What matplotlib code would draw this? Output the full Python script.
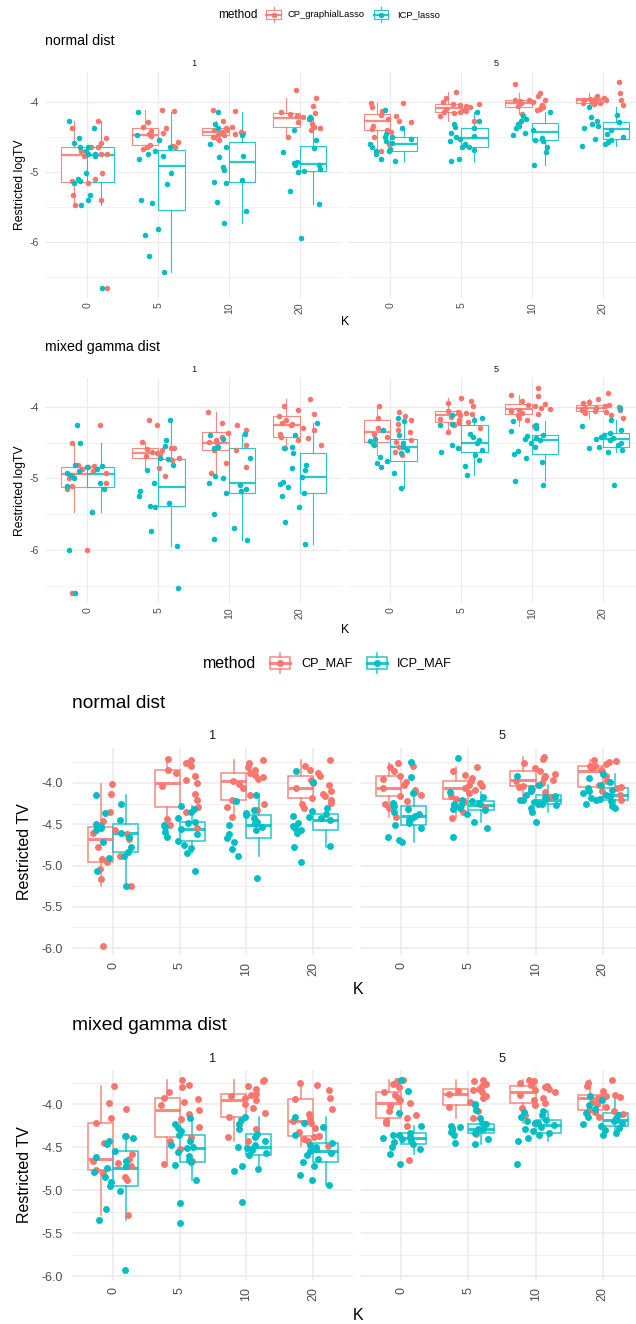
import numpy as np
import matplotlib
matplotlib.use("Agg")
import matplotlib.pyplot as plt
from matplotlib.patches import Rectangle
from matplotlib.colors import to_rgba

plt.rcParams['font.family'] = ['Liberation Sans', 'DejaVu Sans']
plt.rcParams['axes.unicode_minus'] = False

K = ['0', '5', '10', '20']
RED = '#F8766D'
TEAL = '#00BFC4'

# ---- values, one list per K (0, 5, 10, 20) ----
# normal dist, graphical lasso vs ICP lasso (K=0 is the same run for both)
norm_lasso_k0_f1 = [-6.66, -5.48, -5.40, -5.33, -5.16, -5.13, -5.10, -5.02, -4.78, -4.75, -4.74, -4.70, -4.65, -4.64, -4.59, -4.52, -4.38, -4.28]
norm_lasso_cp_f1 = [norm_lasso_k0_f1,
                    [-4.67, -4.65, -4.64, -4.63, -4.62, -4.58, -4.55, -4.49, -4.46, -4.44, -4.42, -4.38, -4.36, -4.29, -4.13, -4.12],
                    [-4.55, -4.51, -4.50, -4.48, -4.48, -4.46, -4.44, -4.43, -4.43, -4.41, -4.39, -4.37, -4.36, -4.27, -4.13, -4.12],
                    [-4.51, -4.40, -4.37, -4.36, -4.36, -4.32, -4.29, -4.25, -4.21, -4.20, -4.18, -4.16, -4.15, -4.06, -3.94, -3.83]]
norm_lasso_icp_f1 = [norm_lasso_k0_f1,
                     [-6.44, -6.20, -5.91, -5.82, -5.45, -5.40, -5.18, -5.02, -4.82, -4.78, -4.74, -4.70, -4.64, -4.55, -4.47, -4.14],
                     [-5.73, -5.56, -5.43, -5.16, -5.15, -5.12, -4.97, -4.93, -4.79, -4.77, -4.64, -4.60, -4.48, -4.38, -4.31, -4.14],
                     [-5.95, -5.46, -5.27, -5.01, -4.99, -4.96, -4.91, -4.90, -4.88, -4.86, -4.72, -4.66, -4.55, -4.41, -4.25, -4.22]]
norm_lasso_cp_f5 = [[-4.70, -4.60, -4.51, -4.43, -4.40, -4.39, -4.34, -4.29, -4.27, -4.25, -4.20, -4.19, -4.13, -4.08, -4.02, -4.01],
                    [-4.27, -4.20, -4.16, -4.15, -4.15, -4.13, -4.11, -4.10, -4.08, -4.06, -4.05, -4.03, -4.03, -4.00, -3.94, -3.86],
                    [-4.18, -4.12, -4.10, -4.08, -4.08, -4.06, -4.04, -4.02, -4.00, -3.99, -3.98, -3.97, -3.97, -3.92, -3.87, -3.74],
                    [-4.05, -4.03, -4.02, -4.01, -4.01, -4.00, -3.99, -3.98, -3.98, -3.97, -3.96, -3.94, -3.94, -3.92, -3.88, -3.72]]
norm_lasso_icp_f5 = [[-4.85, -4.82, -4.74, -4.70, -4.70, -4.67, -4.64, -4.61, -4.59, -4.56, -4.53, -4.51, -4.50, -4.46, -4.37, -4.12],
                     [-4.84, -4.82, -4.69, -4.65, -4.64, -4.61, -4.56, -4.53, -4.51, -4.49, -4.45, -4.37, -4.36, -4.31, -4.27, -4.14],
                     [-4.91, -4.72, -4.65, -4.56, -4.55, -4.52, -4.48, -4.45, -4.41, -4.38, -4.35, -4.31, -4.27, -4.24, -4.20, -4.15],
                     [-4.63, -4.61, -4.58, -4.54, -4.53, -4.51, -4.46, -4.41, -4.38, -4.35, -4.32, -4.29, -4.28, -4.22, -4.19, -4.08]]

# mixed gamma dist, graphical lasso vs ICP lasso
gamma_lasso_k0_f1 = [-6.60, -6.00, -5.47, -5.15, -5.11, -5.07, -4.99, -4.95, -4.93, -4.90, -4.87, -4.84, -4.83, -4.81, -4.51, -4.25]
gamma_lasso_cp_f1 = [gamma_lasso_k0_f1,
                     [-4.97, -4.85, -4.75, -4.71, -4.71, -4.69, -4.66, -4.65, -4.63, -4.61, -4.59, -4.57, -4.57, -4.49, -4.26, -4.18],
                     [-4.92, -4.84, -4.79, -4.61, -4.60, -4.58, -4.54, -4.51, -4.49, -4.46, -4.42, -4.36, -4.33, -4.25, -4.23, -4.07],
                     [-4.58, -4.54, -4.47, -4.44, -4.42, -4.38, -4.33, -4.29, -4.26, -4.24, -4.22, -4.18, -4.13, -4.10, -4.04, -3.99, -3.89]]
gamma_lasso_icp_f1 = [gamma_lasso_k0_f1,
                      [-6.54, -5.94, -5.73, -5.40, -5.39, -5.34, -5.25, -5.18, -5.06, -4.88, -4.81, -4.73, -4.72, -4.55, -4.46, -4.18],
                      [-5.86, -5.85, -5.70, -5.50, -5.20, -5.18, -5.15, -5.10, -5.06, -5.00, -4.97, -4.72, -4.58, -4.56, -4.45, -4.40, -4.38],
                      [-5.92, -5.61, -5.40, -5.24, -5.20, -5.12, -5.08, -5.05, -4.98, -4.88, -4.85, -4.81, -4.65, -4.58, -4.56, -4.39, -4.23]]
gamma_lasso_cp_f5 = [[-4.68, -4.63, -4.56, -4.52, -4.49, -4.46, -4.42, -4.38, -4.35, -4.32, -4.29, -4.24, -4.19, -4.16, -4.13, -4.07, -3.99],
                     [-4.35, -4.30, -4.26, -4.23, -4.21, -4.19, -4.17, -4.14, -4.12, -4.10, -4.08, -4.07, -4.06, -3.99, -3.95, -3.92, -3.87],
                     [-4.27, -4.19, -4.15, -4.12, -4.10, -4.08, -4.06, -4.05, -4.03, -4.01, -3.99, -3.98, -3.96, -3.92, -3.85, -3.83, -3.74],
                     [-4.15, -4.11, -4.08, -4.07, -4.06, -4.05, -4.04, -4.03, -4.02, -4.01, -4.00, -3.99, -3.97, -3.95, -3.93, -3.89, -3.80]]
gamma_lasso_icp_f5 = [[-5.14, -4.92, -4.84, -4.79, -4.76, -4.70, -4.65, -4.60, -4.56, -4.53, -4.51, -4.48, -4.45, -4.40, -4.33, -4.20, -4.16],
                      [-4.95, -4.83, -4.74, -4.68, -4.63, -4.60, -4.57, -4.53, -4.50, -4.47, -4.42, -4.38, -4.26, -4.24, -4.19, -4.15, -4.12],
                      [-5.09, -5.04, -4.77, -4.72, -4.66, -4.62, -4.56, -4.50, -4.47, -4.45, -4.43, -4.41, -4.39, -4.34, -4.30, -4.25, -4.20],
                      [-5.09, -4.63, -4.61, -4.58, -4.56, -4.54, -4.50, -4.47, -4.45, -4.43, -4.42, -4.40, -4.37, -4.33, -4.27, -4.19, -4.02]]

# normal dist, CP_MAF vs ICP_MAF
norm_maf_cp_f1 = [[-5.97, -5.25, -5.16, -5.04, -4.96, -4.92, -4.89, -4.78, -4.68, -4.62, -4.60, -4.57, -4.53, -4.46, -4.35, -4.13, -4.01],
                  [-4.55, -4.51, -4.44, -4.35, -4.29, -4.20, -4.13, -4.04, -4.00, -3.96, -3.92, -3.88, -3.84, -3.80, -3.76, -3.72, -3.71],
                  [-4.41, -4.33, -4.29, -4.25, -4.20, -4.15, -4.06, -4.01, -3.97, -3.95, -3.93, -3.90, -3.88, -3.84, -3.81, -3.76, -3.72],
                  [-4.30, -4.26, -4.24, -4.21, -4.18, -4.16, -4.13, -4.10, -4.06, -4.03, -4.00, -3.96, -3.92, -3.88, -3.84, -3.80, -3.72]]
norm_maf_icp_f1 = [[-5.25, -5.07, -4.91, -4.88, -4.83, -4.77, -4.72, -4.65, -4.60, -4.57, -4.54, -4.52, -4.50, -4.45, -4.36, -4.26, -4.15],
                   [-5.07, -4.85, -4.79, -4.75, -4.70, -4.66, -4.62, -4.59, -4.56, -4.53, -4.51, -4.49, -4.47, -4.43, -4.35, -4.31, -4.28],
                   [-5.15, -4.88, -4.80, -4.71, -4.67, -4.62, -4.57, -4.53, -4.51, -4.49, -4.47, -4.43, -4.39, -4.36, -4.33, -4.22, -4.14],
                   [-4.96, -4.77, -4.76, -4.60, -4.57, -4.55, -4.52, -4.48, -4.45, -4.43, -4.41, -4.40, -4.38, -4.34, -4.30, -3.99, -3.86]]
norm_maf_cp_f5 = [[-4.41, -4.30, -4.26, -4.22, -4.16, -4.14, -4.11, -4.08, -4.06, -4.03, -3.99, -3.95, -3.91, -3.86, -3.81, -3.79, -3.76],
                  [-4.43, -4.35, -4.29, -4.23, -4.19, -4.16, -4.12, -4.09, -4.06, -4.04, -4.02, -4.00, -3.98, -3.94, -3.90, -3.85, -3.81],
                  [-4.17, -4.11, -4.07, -4.05, -4.04, -4.02, -4.00, -3.98, -3.96, -3.94, -3.92, -3.89, -3.86, -3.82, -3.76, -3.71, -3.69],
                  [-4.21, -4.15, -4.10, -4.06, -4.05, -4.02, -3.98, -3.92, -3.86, -3.84, -3.82, -3.80, -3.79, -3.77, -3.75, -3.73, -3.72]]
norm_maf_icp_f5 = [[-4.71, -4.69, -4.65, -4.55, -4.51, -4.48, -4.45, -4.42, -4.40, -4.37, -4.35, -4.32, -4.28, -4.24, -4.12, -3.93, -3.75],
                   [-4.65, -4.54, -4.47, -4.38, -4.33, -4.32, -4.30, -4.28, -4.27, -4.26, -4.25, -4.24, -4.22, -4.20, -4.17, -4.11, -3.70],
                   [-4.47, -4.35, -4.30, -4.27, -4.26, -4.25, -4.23, -4.21, -4.20, -4.19, -4.17, -4.16, -4.14, -4.10, -4.06, -4.02, -3.91],
                   [-4.30, -4.28, -4.25, -4.22, -4.20, -4.19, -4.18, -4.16, -4.14, -4.12, -4.10, -4.08, -4.06, -4.02, -3.99, -3.94, -3.89]]

# mixed gamma dist, CP_MAF vs ICP_MAF
gamma_maf_cp_f1 = [[-5.29, -4.88, -4.84, -4.80, -4.76, -4.72, -4.68, -4.66, -4.63, -4.58, -4.45, -4.37, -4.21, -4.16, -4.05, -3.98, -3.79],
                   [-4.69, -4.66, -4.52, -4.42, -4.38, -4.26, -4.17, -4.11, -4.06, -4.01, -3.97, -3.94, -3.92, -3.86, -3.80, -3.77, -3.72],
                   [-4.42, -4.38, -4.28, -4.23, -4.15, -4.10, -4.04, -3.99, -3.95, -3.92, -3.90, -3.89, -3.88, -3.82, -3.79, -3.73, -3.72],
                   [-4.48, -4.43, -4.40, -4.38, -4.37, -4.32, -4.27, -4.22, -4.19, -4.16, -4.11, -4.05, -3.94, -3.92, -3.83, -3.77, -3.75]]
gamma_maf_icp_f1 = [[-5.93, -5.34, -5.21, -5.01, -4.95, -4.90, -4.84, -4.78, -4.74, -4.71, -4.66, -4.61, -4.54, -4.46, -4.42, -4.39, -4.37],
                    [-5.38, -5.14, -4.88, -4.70, -4.67, -4.64, -4.60, -4.55, -4.51, -4.49, -4.47, -4.42, -4.36, -4.31, -4.27, -4.23, -4.16],
                    [-5.13, -4.77, -4.75, -4.71, -4.59, -4.56, -4.53, -4.51, -4.50, -4.47, -4.43, -4.38, -4.34, -4.29, -4.23, -4.18, -4.14],
                    [-4.94, -4.88, -4.82, -4.71, -4.67, -4.63, -4.59, -4.56, -4.54, -4.52, -4.49, -4.47, -4.45, -4.36, -4.26, -4.21, -4.15]]
gamma_maf_cp_f5 = [[-4.64, -4.25, -4.22, -4.19, -4.16, -4.12, -4.07, -4.02, -3.98, -3.95, -3.92, -3.89, -3.85, -3.80, -3.76, -3.73, -3.72],
                   [-4.34, -4.16, -4.08, -4.03, -4.01, -3.97, -3.93, -3.90, -3.88, -3.86, -3.84, -3.83, -3.82, -3.78, -3.76, -3.73, -3.71],
                   [-4.22, -4.12, -4.04, -4.01, -3.98, -3.95, -3.92, -3.89, -3.85, -3.83, -3.82, -3.80, -3.79, -3.77, -3.75, -3.73, -3.72],
                   [-4.14, -4.11, -4.09, -4.07, -4.06, -4.03, -4.00, -3.97, -3.93, -3.91, -3.90, -3.89, -3.89, -3.84, -3.79, -3.75, -3.72]]
gamma_maf_icp_f5 = [[-4.69, -4.57, -4.52, -4.49, -4.46, -4.44, -4.42, -4.40, -4.39, -4.38, -4.36, -4.35, -4.33, -4.25, -4.10, -3.84, -3.72],
                    [-4.46, -4.45, -4.40, -4.35, -4.33, -4.32, -4.30, -4.29, -4.28, -4.27, -4.26, -4.25, -4.23, -4.21, -4.16, -4.06, -3.99],
                    [-4.69, -4.42, -4.39, -4.36, -4.33, -4.31, -4.29, -4.26, -4.24, -4.22, -4.21, -4.19, -4.18, -4.15, -4.12, -4.09, -4.07],
                    [-4.36, -4.33, -4.30, -4.27, -4.25, -4.23, -4.21, -4.19, -4.18, -4.16, -4.14, -4.12, -4.10, -4.05, -4.01, -3.95, -3.90]]

W, H = 636, 1324
fig = plt.figure(figsize=(W / 100, H / 100), dpi=100)


def px_axes(x0, y0, x1, y1):
    # place an axes from pixel box (origin top-left)
    return fig.add_axes([x0 / W, 1 - y1 / H, (x1 - x0) / W, (y1 - y0) / H])


def draw_facet(ax, cp, icp, ylim, sc, big, show_y, seed):
    lw = 1.07 * sc
    ax.set_xlim(0.4, 4.6)
    ax.set_ylim(*ylim)
    for s in ax.spines.values():
        s.set_visible(False)
    ax.set_xticks(range(1, 5), K, rotation=90)
    if big:
        ax.set_yticks(np.arange(-6.0, -3.9, 0.5), ['%.1f' % t for t in np.arange(-6.0, -3.9, 0.5)])
        ax.set_yticks(np.arange(-5.75, -3.6, 0.5), minor=True)
    else:
        ax.set_yticks([-6, -5, -4], ['-6', '-5', '-4'])
        ax.set_yticks([-6.5, -5.5, -4.5], minor=True)
    ax.grid(which='major', color='#EBEBEB', lw=lw)
    ax.grid(which='minor', axis='y', color='#EBEBEB', lw=lw * 0.5)
    ax.set_axisbelow(True)
    tsize = 9.0 if big else 7.6
    ax.tick_params(which='both', length=0, labelsize=tsize, labelcolor='#4D4D4D')
    ax.tick_params(axis='x', pad=5 if big else 2.9)
    ax.tick_params(axis='y', pad=7.2 if big else 4.3, labelleft=show_y)

    pos = np.arange(1, 5)
    for vals, off, col in [(cp, -0.1875, RED), (icp, 0.1875, TEAL)]:
        c = to_rgba(col, 0.85)
        ax.boxplot(vals, positions=pos + off, widths=0.375, whis=1.5,
                   showfliers=False, showcaps=False, patch_artist=True, manage_ticks=False,
                   boxprops=dict(facecolor='white', edgecolor=c, linewidth=lw),
                   whiskerprops=dict(color=c, linewidth=lw),
                   medianprops=dict(color=c, linewidth=2 * lw), zorder=2)
    rng = np.random.default_rng(seed)
    ms = 25 if big else 16
    for vals, col in [(cp, RED), (icp, TEAL)]:
        for i, v in enumerate(vals):
            x = pos[i] + rng.uniform(-0.3, 0.3, len(v))
            ax.scatter(x, v, s=ms, color=col, lw=0, zorder=3)


# overlay for titles, strips, labels and legends (pixel coordinates)
ov = fig.add_axes([0, 0, 1, 1], zorder=5)
ov.set_xlim(0, W)
ov.set_ylim(H, 0)
ov.set_axis_off()
ov.patch.set_alpha(0)


def legend(y, x_title, keys, sc, k):
    lw = 1.07 * sc
    ov.text(x_title, y, 'method', fontsize=11 * sc, ha='left', va='center')
    for cx, col, lab, tx in keys:
        c = to_rgba(col, 0.85)
        ov.add_patch(Rectangle((cx - 0.4 * k, y - 0.25 * k), 0.8 * k, 0.5 * k,
                               facecolor='white', edgecolor=c, lw=lw))
        ov.plot([cx, cx], [y - 0.4 * k, y - 0.25 * k], color=c, lw=lw)
        ov.plot([cx, cx], [y + 0.25 * k, y + 0.4 * k], color=c, lw=lw)
        ov.plot([cx - 0.4 * k, cx + 0.4 * k], [y, y], color=c, lw=2 * lw)
        ov.scatter([cx], [y], s=25 if sc > 1 else 16, color=col, lw=0, zorder=3)
        ov.text(tx, y, lab, fontsize=8.8 * sc, ha='left', va='center')


legend(14.5, 218, [(273.5, RED, 'CP_graphialLasso', 288), (381, TEAL, 'ICP_lasso', 397)], 0.77, 18)
legend(663, 203, [(279.5, RED, 'CP_MAF', 301), (376.7, TEAL, 'ICP_MAF', 397)], 1.045, 25)

panels = [
    dict(title='normal dist', ylab='Restricted logTV', data=(norm_lasso_cp_f1, norm_lasso_icp_f1, norm_lasso_cp_f5, norm_lasso_icp_f5),
         xs=(45, 342, 348, 645), ys=(72, 298), ty=41, tx=45, sy=63, ky=322, lx=20, sc=0.77, big=False),
    dict(title='mixed gamma dist', ylab='Restricted logTV', data=(gamma_lasso_cp_f1, gamma_lasso_icp_f1, gamma_lasso_cp_f5, gamma_lasso_icp_f5),
         xs=(45, 342, 348, 645), ys=(378, 603), ty=346.7, tx=45, sy=369, ky=630, lx=20, sc=0.77, big=False),
    dict(title='normal dist', ylab='Restricted TV', data=(norm_maf_cp_f1, norm_maf_icp_f1, norm_maf_cp_f5, norm_maf_icp_f5),
         xs=(73, 353, 361, 643), ys=(748, 955), ty=703, tx=72, sy=736, ky=990, lx=25, sc=1.045, big=True),
    dict(title='mixed gamma dist', ylab='Restricted TV', data=(gamma_maf_cp_f1, gamma_maf_icp_f1, gamma_maf_cp_f5, gamma_maf_icp_f5),
         xs=(73, 353, 361, 643), ys=(1070, 1280), ty=1025, tx=72, sy=1059, ky=1315, lx=25, sc=1.045, big=True),
]

for n, p in enumerate(panels):
    cp1, icp1, cp5, icp5 = p['data']
    allv = np.concatenate([np.concatenate(g) for g in p['data']])
    lo, hi = allv.min(), allv.max()
    pad = 0.05 * (hi - lo)
    ylim = (lo - pad, hi + pad)
    x0, x1, x2, x3 = p['xs']
    y0, y1 = p['ys']
    sc = p['sc']
    a1 = px_axes(x0, y0, x1, y1)
    a5 = px_axes(x2, y0, x3, y1)
    draw_facet(a1, cp1, icp1, ylim, sc, p['big'], True, 10 + n)
    draw_facet(a5, cp5, icp5, ylim, sc, p['big'], False, 20 + n)

    lab = 11 * sc if p['big'] else 8.8
    ov.text(p['tx'], p['ty'], p['title'], fontsize=13.2 * sc, ha='left', va='center')
    ov.text((x0 + x1) / 2, p['sy'], '1', fontsize=8.8 * sc, color='#1A1A1A', ha='center', va='center')
    ov.text((x2 + x3) / 2, p['sy'], '5', fontsize=8.8 * sc, color='#1A1A1A', ha='center', va='center')
    ov.text(p['lx'], (y0 + y1) / 2, p['ylab'], fontsize=lab, rotation=90, ha='center', va='center')
    ov.text((x0 + x3) / 2, p['ky'], 'K', fontsize=lab, ha='center', va='center')

fig.savefig('out.png', dpi=100, facecolor='white')
